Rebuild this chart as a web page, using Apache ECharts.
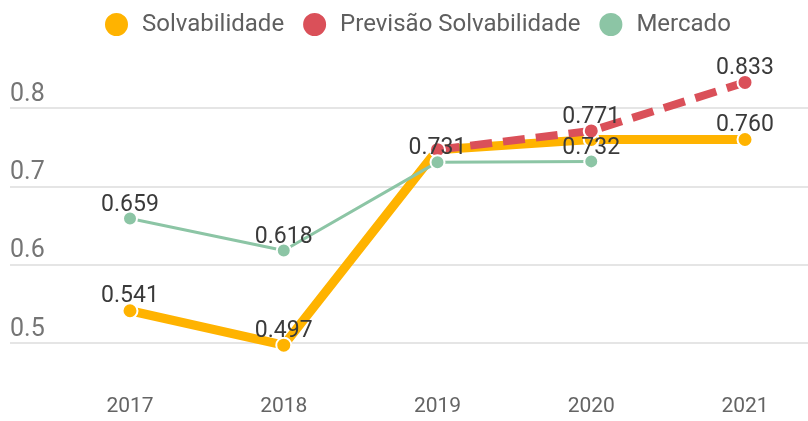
<!DOCTYPE html>
<html>
<head>
<meta charset="utf-8">
<script src="https://cdn.jsdelivr.net/npm/echarts@6/dist/echarts.min.js"></script>
<style>
html,body{margin:0;padding:0;background:#fff;}
#c{width:808px;height:421px;}
</style>
</head>
<body>
<div id="c"></div>
<script>
var categories = ['2017', '2018', '2019', '2020', '2021'];
var solvabilidade = [0.541, 0.497, 0.747, 0.760, 0.760];
var previsao = [null, null, 0.747, 0.771, 0.833];
var mercado = [0.659, 0.618, 0.731, 0.732, null];
var hiddenSolvLabels = [2, 3];
var hiddenPrevLabels = [2];
var yTicks = { min: 0.4, max: 0.9, interval: 0.1 };

var FONT = 'Roboto';
var labelStyle = {
  show: true, position: 'top', distance: -6,
  fontFamily: FONT, fontSize: 23, color: '#3a3a3a',
  formatter: function (p) { return p.value == null ? '' : p.value.toFixed(3); }
};

function withLabels(arr, hidden) {
  return arr.map(function (v, i) {
    if (hidden.indexOf(i) >= 0) return { value: v, label: { show: false } };
    return v;
  });
}

var chart = echarts.init(document.getElementById('c'), null, { renderer: 'canvas' });
chart.setOption({
  animation: false,
  backgroundColor: '#fff',
  legend: {
    top: 6, left: 98,
    icon: 'circle', itemWidth: 25, itemHeight: 25, itemGap: 17,
    textStyle: { fontFamily: FONT, fontSize: 24, color: '#5f5f5f', padding: [0, 0, 0, 8] },
    data: ['Solvabilidade', 'Previsão Solvabilidade', 'Mercado']
  },
  grid: [
    { left: 10, right: 0, top: 30, height: 396 },
    { left: 130, right: 63, top: 30, height: 396 }
  ],
  xAxis: [
    { gridIndex: 0, type: 'category', data: categories, show: false },
    {
      gridIndex: 1, type: 'category', data: categories, boundaryGap: false,
      axisLine: { show: false }, axisTick: { show: false }, splitLine: { show: false },
      axisLabel: { inside: true, margin: 4, fontFamily: FONT, fontSize: 21, color: '#646464', interval: 0 }
    }
  ],
  yAxis: [
    {
      gridIndex: 0, type: 'value', min: yTicks.min, max: yTicks.max, interval: yTicks.interval,
      axisLine: { show: false }, axisTick: { show: false },
      splitLine: { show: true, showMinLine: false, showMaxLine: false, lineStyle: { color: '#dcdcdc', width: 1.5 } },
      axisLabel: {
        inside: true, margin: 0, showMinLabel: false, showMaxLabel: false,
        verticalAlign: 'bottom', padding: [0, 0, 1, 0],
        fontFamily: FONT, fontSize: 25, color: '#757575',
        formatter: function (v) { return v.toFixed(1); }
      }
    },
    {
      gridIndex: 1, type: 'value', min: yTicks.min, max: yTicks.max, interval: yTicks.interval,
      show: false, splitLine: { show: false }
    }
  ],
  series: [
    {
      name: 'Solvabilidade', type: 'line', xAxisIndex: 1, yAxisIndex: 1,
      data: withLabels(solvabilidade, hiddenSolvLabels),
      color: '#ffb300',
      lineStyle: { width: 9, color: '#ffb300' },
      symbol: 'circle', symbolSize: 15,
      itemStyle: { color: '#ffb300', borderColor: '#fff', borderWidth: 2 },
      label: labelStyle, z: 2
    },
    {
      name: 'Previsão Solvabilidade', type: 'line', xAxisIndex: 1, yAxisIndex: 1,
      data: withLabels(previsao, hiddenPrevLabels),
      color: '#da5059',
      lineStyle: { width: 8, color: '#da5059', type: [22, 11] },
      symbol: 'circle', symbolSize: 15,
      itemStyle: { color: '#da5059', borderColor: '#fff', borderWidth: 2 },
      label: labelStyle, z: 3
    },
    {
      name: 'Mercado', type: 'line', xAxisIndex: 1, yAxisIndex: 1,
      data: mercado,
      color: '#8cc5a5',
      lineStyle: { width: 3, color: '#8cc5a5' },
      symbol: 'circle', symbolSize: 14,
      itemStyle: { color: '#8cc5a5', borderColor: '#fff', borderWidth: 2 },
      label: labelStyle, z: 4
    }
  ]
});
</script>
</body>
</html>
